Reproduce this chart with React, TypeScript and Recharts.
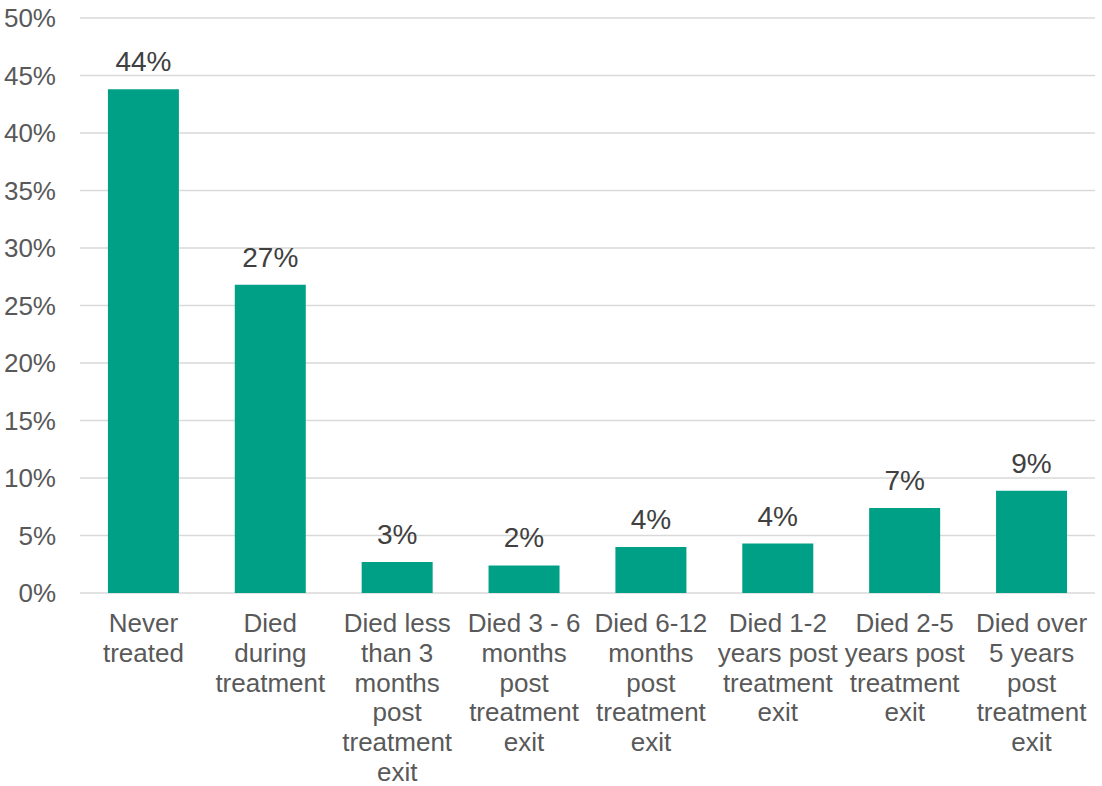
import { BarChart, Bar, XAxis, YAxis, CartesianGrid, LabelList } from "recharts";

// categories, with the line breaks the axis labels wrap at
const categories = [
  "Never\ntreated",
  "Died\nduring\ntreatment",
  "Died less\nthan 3\nmonths\npost\ntreatment\nexit",
  "Died 3 - 6\nmonths\npost\ntreatment\nexit",
  "Died 6-12\nmonths\npost\ntreatment\nexit",
  "Died 1-2\nyears post\ntreatment\nexit",
  "Died 2-5\nyears post\ntreatment\nexit",
  "Died over\n5 years\npost\ntreatment\nexit",
];

// share of deaths, percent
const shares = [43.8, 26.8, 2.7, 2.4, 4.0, 4.3, 7.4, 8.9];

const yTicks = [0, 5, 10, 15, 20, 25, 30, 35, 40, 45, 50];

const data = categories.map((name, i) => ({ name, share: shares[i] }));

const FONT = "'Liberation Sans', Arial, sans-serif";

function CategoryTick(props: any) {
  const { x, y, payload } = props;
  const lines = String(payload.value).split("\n");
  return (
    <text
      x={x}
      y={y + 37}
      textAnchor="middle"
      fill="#595959"
      fontSize={26}
      fontFamily={FONT}
    >
      {lines.map((line, i) => (
        <tspan key={i} x={x} dy={i === 0 ? 0 : 29.8}>
          {line}
        </tspan>
      ))}
    </text>
  );
}

export default function App() {
  return (
    <div style={{ position: "absolute", left: 0, top: 0, background: "#fff" }}>
      <BarChart
        width={1102}
        height={786}
        data={data}
        margin={{ top: 18, right: 7, bottom: 0, left: 0 }}
        barCategoryGap="22%"
      >
        <CartesianGrid vertical={false} stroke="#d9d9d9" strokeWidth={1.5} />
        <XAxis
          dataKey="name"
          axisLine={false}
          tickLine={false}
          tickSize={0}
          interval={0}
          height={193}
          tick={<CategoryTick />}
        />
        <YAxis
          domain={[0, 50]}
          ticks={yTicks}
          width={80}
          axisLine={false}
          tickLine={false}
          tickSize={0}
          tickMargin={24}
          tickFormatter={(v: number) => `${v}%`}
          tick={{ fill: "#595959", fontSize: 26, fontFamily: FONT }}
        />
        <Bar dataKey="share" fill="#00a086" isAnimationActive={false}>
          <LabelList
            dataKey="share"
            position="top"
            offset={18}
            formatter={(v: any) => `${Math.round(Number(v))}%`}
            fill="#404040"
            fontSize={28}
            fontFamily={FONT}
          />
        </Bar>
      </BarChart>
    </div>
  );
}
